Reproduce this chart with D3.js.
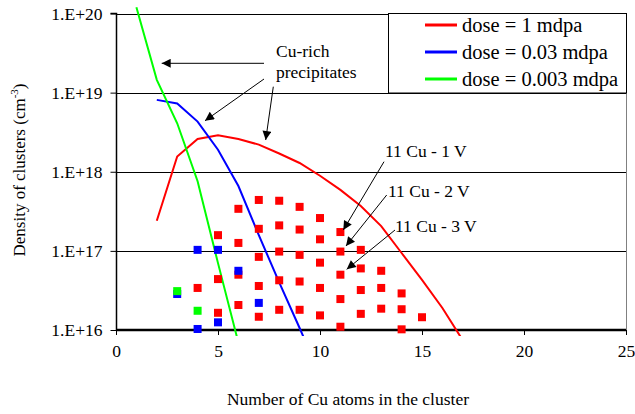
<!DOCTYPE html>
<html><head><meta charset="utf-8">
<script src="https://cdn.jsdelivr.net/npm/d3@7"></script>
<style>body{margin:0;background:#fff}svg text{font-family:"Liberation Serif","Times New Roman",serif !important;fill:#000}</style>
</head><body><svg id="c" width="635" height="414"></svg>
<script>
// ---- data ----
const xTicks = [0, 5, 10, 15, 20, 25];
const yTicks = [1e16, 1e17, 1e18, 1e19, 1e20];
const seriesNames = ["dose = 1 mdpa", "dose = 0.03 mdpa", "dose = 0.003 mdpa"];
const seriesColors = ["#ff0000", "#0000ff", "#00ff00"];
const xDose1 = [2, 3, 4, 5, 6, 7, 8, 9, 10, 11, 12, 13, 14, 15, 16, 17];
const yDose1 = [2.4e17, 1.56e18, 2.6e18, 2.9e18, 2.6e18, 2.2e18, 1.7e18, 1.29e18, 8.9e17, 5.9e17, 3.7e17, 2.06e17, 9.4e16, 4.3e16, 1.9e16, 7.4e15];
const xDose003 = [2, 3, 4, 5, 6, 7, 8, 9, 10];
const yDose003 = [8.1e18, 7.3e18, 4.3e18, 1.9e18, 6.6e17, 1.58e17, 4.0e16, 1.06e16, 2.7e15];
const xDose0003 = [1, 2, 3, 4, 5, 6];
const yDose0003 = [1.2e20, 1.45e19, 4.1e18, 7.6e17, 7e16, 6.9e15];
const redPtsX = [4, 5, 5, 5, 6, 6, 6, 6, 7, 7, 7, 7, 7, 8, 8, 8, 8, 8, 9, 9, 9, 9, 9, 10, 10, 10, 10, 10, 11, 11, 11, 11, 11, 12, 12, 12, 12, 13, 13, 13, 14, 14, 14, 15];
const redPtsY = [3.4e16, 1.58e17, 4.4e16, 1.65e16, 3.4e17, 1.26e17, 5.0e16, 2.07e16, 4.4e17, 1.9e17, 8.4e16, 3.6e16, 1.47e16, 4.3e17, 2.1e17, 9.8e16, 4.25e16, 1.8e16, 3.6e17, 1.86e17, 8.9e16, 4.1e16, 1.8e16, 2.6e17, 1.4e17, 7.1e16, 3.4e16, 1.53e16, 1.73e17, 9.8e16, 5.0e16, 2.46e16, 1.1e16, 1.03e17, 6.0e16, 3.2e16, 1.6e16, 5.6e16, 3.4e16, 1.86e16, 2.9e16, 1.83e16, 1.02e16, 1.45e16];
const bluePtsX = [3, 4, 4, 5, 5, 6, 7];
const bluePtsY = [2.85e16, 1.03e17, 1.03e16, 1.03e17, 1.25e16, 5.6e16, 2.2e16];
const greenPtsX = [3, 4];
const greenPtsY = [3.1e16, 1.75e16];
const yTitle = "Density of clusters (cm";
const xTitle = "Number of Cu atoms in the cluster";
const notes = ["Cu-rich", "precipitates", "11 Cu - 1 V", "11 Cu - 2 V", "11 Cu - 3 V"];

// ---- layout ----
const svg = d3.select("#c");
const L = 116, R = 626, T = 13.5, B = 330;
const x = d3.scaleLinear().domain([0, 25]).range([L, R]);
const y = d3.scaleLog().domain([1e16, 1e20]).range([B, T]);

const defs = svg.append("defs");
defs.append("clipPath").attr("id", "clip").append("rect").attr("x", L).attr("y", 0).attr("width", R - L).attr("height", 336);
defs.append("marker").attr("id", "ah").attr("viewBox", "0 0 10 10").attr("refX", 10).attr("refY", 5)
  .attr("markerWidth", 11).attr("markerHeight", 9).attr("markerUnits", "userSpaceOnUse").attr("orient", "auto")
  .append("path").attr("d", "M0,0L10,5L0,10Z").attr("fill", "#000");

// gridlines
svg.append("g").selectAll("line").data(yTicks.slice(1)).join("line")
  .attr("x1", L).attr("x2", R).attr("y1", d => Math.round(y(d)) + 0.5).attr("y2", d => Math.round(y(d)) + 0.5)
  .attr("stroke", "#000").attr("stroke-width", 1);
// right border
svg.append("line").attr("x1", R + 0.5).attr("x2", R + 0.5).attr("y1", T).attr("y2", B + 2).attr("stroke", "#808080");

// axes
const yAxis = d3.axisLeft(y).tickValues(yTicks).tickSize(6).tickPadding(8)
  .tickFormat(d => "1.E+" + Math.round(Math.log10(d)));
const gy = svg.append("g").attr("transform", `translate(${L + 0.5},0)`).call(yAxis);
gy.selectAll("text").attr("font-size", 17.5);
gy.select(".domain").attr("stroke-width", 1.5).attr("d", `M-6,${y(1e20)}H0V${B}`);

const xAxis = d3.axisBottom(x).tickValues(xTicks).tickSize(5).tickPadding(10).tickFormat(d3.format("d"));
const gx = svg.append("g").attr("transform", `translate(0,${B})`).call(xAxis);
gx.selectAll("text").attr("font-size", 17.5);
gx.select(".domain").attr("stroke-width", 2.5).attr("d", `M${L},0H${R}`);

// lines
const line = d3.line().x(d => x(d[0])).y(d => y(d[1]));
const plot = svg.append("g").attr("clip-path", "url(#clip)");
const lineData = [d3.zip(xDose1, yDose1), d3.zip(xDose003, yDose003), d3.zip(xDose0003, yDose0003)];
plot.selectAll("path.s").data(lineData).join("path").attr("class", "s")
  .attr("d", line).attr("fill", "none").attr("stroke", (d, i) => seriesColors[i]).attr("stroke-width", 2);

// squares
const sq = 8;
[[redPtsX, redPtsY, "#ff0000"], [bluePtsX, bluePtsY, "#0000ff"], [greenPtsX, greenPtsY, "#00ff00"]].forEach(([xs, ys, c]) => {
  svg.append("g").selectAll("rect").data(d3.zip(xs, ys)).join("rect")
    .attr("x", d => x(d[0]) - sq / 2).attr("y", d => y(d[1]) - sq / 2)
    .attr("width", sq).attr("height", sq).attr("fill", c);
});

// legend
const lg = svg.append("g");
lg.append("rect").attr("x", 388.5).attr("y", 13.5).attr("width", R - 388).attr("height", 79.5)
  .attr("fill", "#fff").attr("stroke", "#000");
seriesNames.forEach((n, i) => {
  const yy = 25 + i * 27;
  lg.append("line").attr("x1", 425).attr("x2", 457).attr("y1", yy).attr("y2", yy)
    .attr("stroke", seriesColors[i]).attr("stroke-width", 3);
  lg.append("text").attr("x", 462).attr("y", yy + 6.5).attr("font-size", 20.5).text(n);
});

// axis titles
svg.append("text").attr("transform", "translate(25,170) rotate(-90)").attr("text-anchor", "middle")
  .attr("font-size", 17).text(yTitle)
  .append("tspan").attr("font-size", 11).attr("dy", -7).text("-3")
  .select(function () { return this.parentNode; })
  .append("tspan").attr("dy", 7).attr("font-size", 17).text(")");
svg.append("text").attr("x", 348).attr("y", 405).attr("text-anchor", "middle").attr("font-size", 17.5).text(xTitle);

// annotations
const ann = svg.append("g").attr("font-size", 17.5);
ann.append("text").attr("x", 276).attr("y", 57).text(notes[0]);
ann.append("text").attr("x", 276).attr("y", 78).text(notes[1]);
ann.append("text").attr("x", 385).attr("y", 157).text(notes[2]);
ann.append("text").attr("x", 388).attr("y", 197).text(notes[3]);
ann.append("text").attr("x", 395).attr("y", 232).text(notes[4]);
const arrows = [
  [264, 63.3, 161.7, 63.3], [264, 79, 205, 120.7], [273.3, 86.7, 265.7, 140],
  [384, 161.7, 343.3, 230], [386.7, 195, 346, 246], [395, 230, 346.7, 269.3]
];
ann.selectAll("line").data(arrows).join("line")
  .attr("x1", d => d[0]).attr("y1", d => d[1]).attr("x2", d => d[2]).attr("y2", d => d[3])
  .attr("stroke", "#000").attr("stroke-width", 1).attr("marker-end", "url(#ah)");
</script></body></html>
